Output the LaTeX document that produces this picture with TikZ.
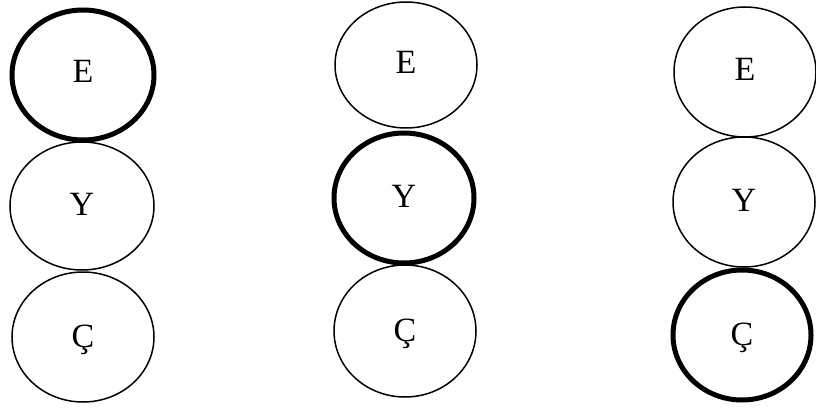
\documentclass[tikz,border=0pt]{standalone}
\usepackage{fontspec}
\setmainfont{Liberation Serif}
\usetikzlibrary{shapes.geometric}
\begin{document}
\begin{tikzpicture}[x=1pt,y=-1pt,
  ell/.style={ellipse,draw=black,line width=1.5pt,inner sep=0pt},
  thick ell/.style={ell,line width=5pt},
  lbl/.style={font=\fontsize{34}{38}\selectfont,inner sep=0pt,anchor=base}]
\useasboundingbox (0,0) rectangle (816,409);
% column 1
\node[thick ell,minimum width=142pt,minimum height=130pt] (e1) at (83,75) {};
\node[ell,minimum width=144pt,minimum height=128pt] (y1) at (82,206) {};
\node[ell,minimum width=142pt,minimum height=130pt] (c1) at (83,337) {};
% column 2
\node[ell,minimum width=142pt,minimum height=126pt] (e2) at (406,65) {};
\node[thick ell,minimum width=140pt,minimum height=130pt] (y2) at (404,198) {};
\node[ell,minimum width=142pt,minimum height=132pt] (c2) at (405,331) {};
% column 3
\node[ell,minimum width=142pt,minimum height=130pt] (e3) at (745,72) {};
\node[ell,minimum width=142pt,minimum height=130pt] (y3) at (744,202) {};
\node[thick ell,minimum width=138pt,minimum height=130pt] (c3) at (742,335) {};
% labels
\node[lbl] (te1) at ([yshift=-8pt]e1.center) {E};
\node[lbl] (ty1) at ([yshift=-9pt]y1.center) {Y};
\node[lbl] (tc1) at ([yshift=-10pt]c1.center) {Ç};
\node[lbl] (te2) at ([yshift=-9pt]e2.center) {E};
\node[lbl] (ty2) at ([yshift=-9pt]y2.center) {Y};
\node[lbl] (tc2) at ([yshift=-10pt]c2.center) {Ç};
\node[lbl] (te3) at ([yshift=-9pt]e3.center) {E};
\node[lbl] (ty3) at ([yshift=-9pt]y3.center) {Y};
\node[lbl] (tc3) at ([yshift=-10pt]c3.center) {Ç};
\end{tikzpicture}
\end{document}
